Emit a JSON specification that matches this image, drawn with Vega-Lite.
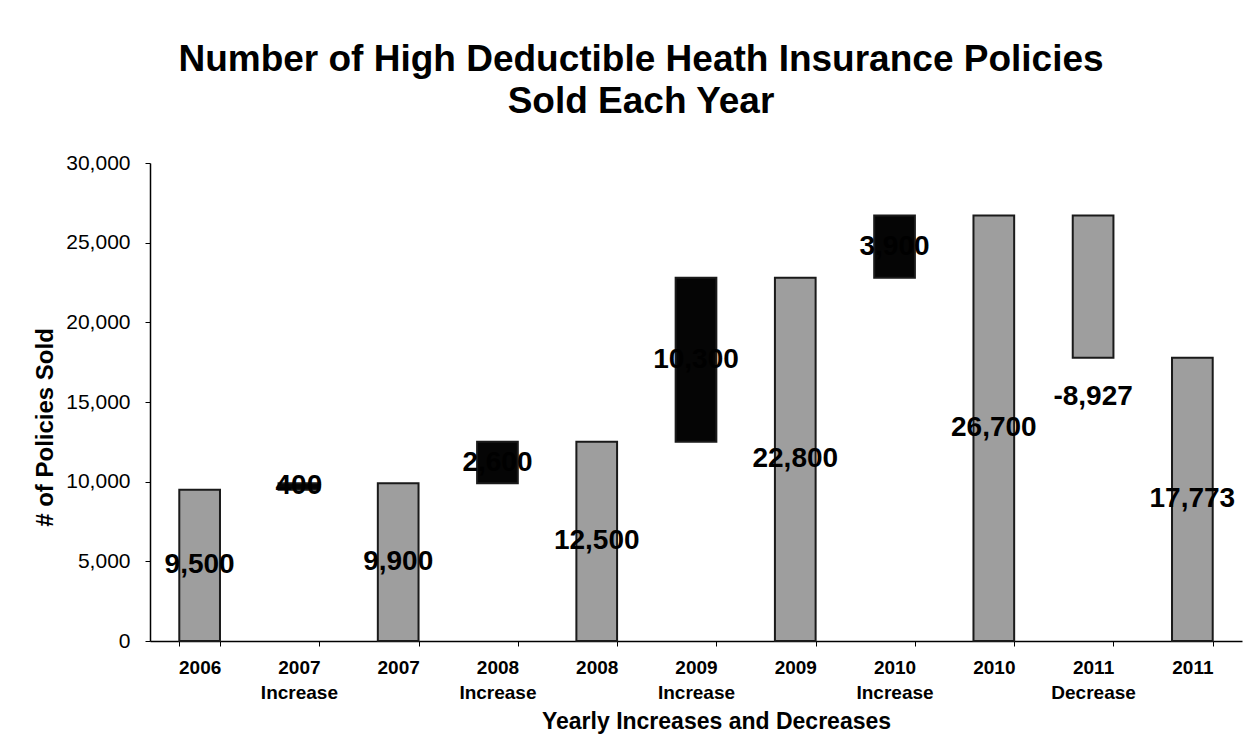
{
  "$schema": "https://vega.github.io/schema/vega-lite/v6.json",
  "width": 1092,
  "height": 478,
  "autosize": {"type": "none"},
  "padding": {"left": 150, "top": 163, "right": 17, "bottom": 97},
  "background": "white",
  "title": {
    "text": ["Number of High Deductible Heath Insurance Policies", "Sold Each Year"],
    "font": "Liberation Sans",
    "fontSize": 37,
    "fontWeight": "bold",
    "lineHeight": 42,
    "color": "#000000",
    "anchor": "middle",
    "dx": -55,
    "offset": 31
  },
  "data": {
    "values": [
      {"step": "2006", "kind": "total", "start": 0, "end": 9500, "value": 9500},
      {"step": "2007 Increase", "kind": "increase", "start": 9500, "end": 9900, "value": 400},
      {"step": "2007", "kind": "total", "start": 0, "end": 9900, "value": 9900},
      {"step": "2008 Increase", "kind": "increase", "start": 9900, "end": 12500, "value": 2600},
      {"step": "2008", "kind": "total", "start": 0, "end": 12500, "value": 12500},
      {"step": "2009 Increase", "kind": "increase", "start": 12500, "end": 22800, "value": 10300},
      {"step": "2009", "kind": "total", "start": 0, "end": 22800, "value": 22800},
      {"step": "2010 Increase", "kind": "increase", "start": 22800, "end": 26700, "value": 3900},
      {"step": "2010", "kind": "total", "start": 0, "end": 26700, "value": 26700},
      {"step": "2011 Decrease", "kind": "decrease", "start": 26700, "end": 17773, "value": -8927},
      {"step": "2011", "kind": "total", "start": 0, "end": 17773, "value": 17773}
    ]
  },
  "transform": [
    {"calculate": "replace(format(datum.value, ',d'), '\u2212', '-')", "as": "valueText"}
  ],
  "encoding": {
    "x": {
      "field": "step",
      "type": "nominal",
      "sort": null,
      "scale": {"paddingInner": 0.59, "paddingOuter": 0.295},
      "axis": {
        "title": "Yearly Increases and Decreases",
        "titleFont": "Liberation Sans",
        "titleFontSize": 23,
        "titleFontWeight": "bold",
        "titleColor": "#000000",
        "titlePadding": 8,
        "titleX": 566,
        "labelExpr": "isValid(datum.value) ? split(datum.value, ' ') : ''",
        "labelAngle": 0,
        "labelFont": "Liberation Sans",
        "labelFontSize": 19,
        "labelFontWeight": "bold",
        "labelColor": "#000000",
        "labelLineHeight": 25,
        "labelPadding": 12,
        "labelBaseline": "top",
        "tickBand": "extent",
        "tickSize": 5,
        "tickColor": "#000000",
        "domainColor": "#000000",
        "domainWidth": 1.5,
        "grid": false
      }
    }
  },
  "layer": [
    {
      "mark": {"type": "bar", "stroke": "#1a1a1a", "strokeWidth": 2},
      "encoding": {
        "y": {
          "field": "start",
          "type": "quantitative",
          "scale": {"domain": [0, 30000], "nice": false},
          "axis": {
            "title": "# of Policies Sold",
            "titleFont": "Liberation Sans",
            "titleFontSize": 24,
            "titleFontWeight": "bold",
            "titleColor": "#000000",
            "titlePadding": 8,
            "titleY": 264,
            "values": [0, 5000, 10000, 15000, 20000, 25000, 30000],
            "format": ",d",
            "labelFont": "Liberation Sans",
            "labelFontSize": 21,
            "labelColor": "#000000",
            "labelPadding": 15,
            "tickSize": 5,
            "tickColor": "#000000",
            "domainColor": "#000000",
            "domainWidth": 1.5,
            "grid": false
          }
        },
        "y2": {"field": "end"},
        "color": {
          "field": "kind",
          "type": "nominal",
          "scale": {"domain": ["total", "increase", "decrease"], "range": ["#9e9e9e", "#050505", "#9e9e9e"]},
          "legend": null
        }
      }
    },
    {
      "transform": [
        {"filter": "datum.kind != 'decrease'"},
        {"calculate": "(datum.start + datum.end) / 2", "as": "mid"}
      ],
      "mark": {"type": "text", "font": "Liberation Sans", "fontSize": 28, "fontWeight": "bold", "color": "#000000", "baseline": "middle", "align": "center"},
      "encoding": {
        "y": {"field": "mid", "type": "quantitative"},
        "text": {"field": "valueText", "type": "nominal"}
      }
    },
    {
      "transform": [{"filter": "datum.kind == 'decrease'"}],
      "mark": {"type": "text", "font": "Liberation Sans", "fontSize": 28, "fontWeight": "bold", "color": "#000000", "baseline": "middle", "align": "center", "dy": 39},
      "encoding": {
        "y": {"field": "end", "type": "quantitative"},
        "text": {"field": "valueText", "type": "nominal"}
      }
    }
  ],
  "config": {
    "view": {"stroke": null},
    "font": "Liberation Sans"
  }
}
